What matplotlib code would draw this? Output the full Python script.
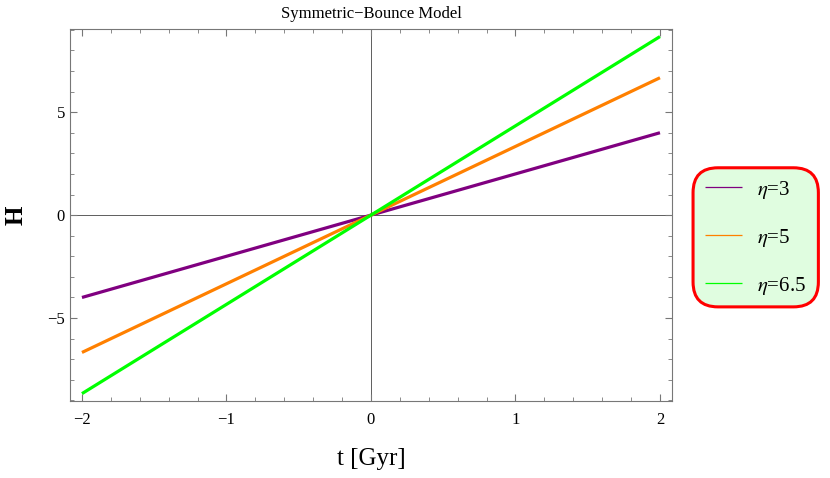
import numpy as np
import matplotlib
matplotlib.use("Agg")
import matplotlib.pyplot as plt
from matplotlib.patches import FancyBboxPatch
from matplotlib.ticker import MultipleLocator

plt.rcParams['font.family'] = ['Liberation Serif', 'DejaVu Serif']
plt.rcParams['mathtext.fontset'] = 'stix'

t = [-2.0, 2.0]
H_eta3 = [-4.0, 4.0]
H_eta5 = [-6.67, 6.67]
H_eta65 = [-8.67, 8.67]
labels = [r'$\eta$=3', r'$\eta$=5', r'$\eta$=6.5']
colors = ['#800080', '#ff8000', '#00ff00']

fig = plt.figure(figsize=(8.3, 4.78), dpi=100)
ax = fig.add_axes([0.0843, 0.161, 0.7253, 0.778])

for H, c, lab in zip([H_eta3, H_eta5, H_eta65], colors, labels):
    ax.plot(t, H, color=c, lw=2.3, label=lab, solid_capstyle='butt')

ax.axhline(0, color='#444444', lw=0.6, zorder=0)
ax.axvline(0, color='#444444', lw=0.6, zorder=0)

ax.set_xlim(-2.083, 2.083)
ax.set_ylim(-9.03, 9.03)
ax.xaxis.set_major_locator(MultipleLocator(1))
ax.xaxis.set_minor_locator(MultipleLocator(0.2))
ax.yaxis.set_major_locator(MultipleLocator(5))
ax.yaxis.set_minor_locator(MultipleLocator(1))
ax.tick_params(which='both', direction='in', top=True, right=True,
               color='#777777', labelsize=12)
ax.tick_params(which='major', length=5)
ax.tick_params(which='minor', length=3)
ax.tick_params(axis='x', pad=8)
for s in ax.spines.values():
    s.set_color('#777777')
    s.set_linewidth(0.8)

fmt = plt.FuncFormatter(lambda v, p: f'{int(v)}'.replace('-', '\u2212'))
ax.xaxis.set_major_formatter(fmt)
ax.yaxis.set_major_formatter(fmt)

ax.set_title('Symmetric\u2212Bounce Model', fontsize=12, pad=8)
ax.set_xlabel('t [Gyr]', fontsize=18, labelpad=14)
ax.set_ylabel('H', fontsize=18, fontweight='bold', rotation=90, labelpad=14)

handles, labs = ax.get_legend_handles_labels()
leg = fig.legend(handles, labs, loc='center', bbox_to_anchor=(0.91, 0.503),
                 fontsize=15, frameon=False, handlelength=1.8,
                 handletextpad=0.7, labelspacing=1.25)
for l in leg.get_lines():
    l.set_linewidth(0.9)

box = FancyBboxPatch((0.835, 0.358), 0.151, 0.291, transform=fig.transFigure,
                     boxstyle='round,pad=0,rounding_size=0.03',
                     facecolor='#e0fde0', edgecolor='#ff0000', lw=2.2,
                     zorder=-1, mutation_aspect=830/478)
fig.patches.append(box)

fig.savefig('out.png', dpi=100)
